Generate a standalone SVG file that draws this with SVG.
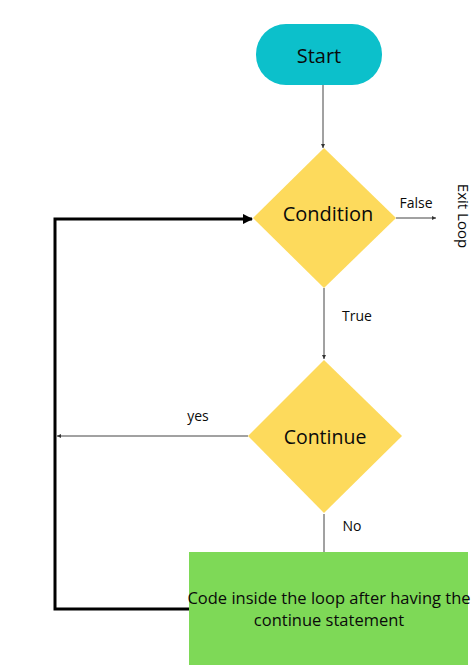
<svg xmlns="http://www.w3.org/2000/svg" width="474" height="670" viewBox="0 0 474 670">
<style>
text{font-family:"Open Sans","Noto Sans",sans-serif;fill:#0a0a0a}
.thin{stroke:#444;stroke-width:1;fill:none}
.thick{stroke:#000;stroke-width:3;fill:none}
.lbl{font-size:14px}
</style>
<defs>
<marker id="ah" viewBox="0 0 10 10" refX="10" refY="5" markerWidth="4" markerHeight="4" orient="auto"><path d="M0,0 L10,5 L0,10 z" fill="#333"/></marker>
<marker id="ahb" viewBox="0 0 10 10" refX="9" refY="5" markerWidth="3.5" markerHeight="3.5" orient="auto"><path d="M0,0 L10,5 L0,10 z" fill="#000"/></marker>
</defs>
<g id="connectors">
<line class="thin" x1="323" y1="85" x2="323" y2="148" marker-end="url(#ah)"/>
<line class="thin" x1="396" y1="218" x2="436" y2="218" marker-end="url(#ah)"/>
<line class="thin" x1="324" y1="288" x2="324" y2="359" marker-end="url(#ah)"/>
<line class="thin" x1="248" y1="436" x2="57" y2="436" marker-end="url(#ah)"/>
<line class="thin" x1="324" y1="514" x2="324" y2="552"/>
<path class="thick" d="M189,609 H55 V219 H252" marker-end="url(#ahb)"/>
<text class="lbl" x="416" y="208" text-anchor="middle">False</text>
<text class="lbl" x="357" y="321" text-anchor="middle">True</text>
<text class="lbl" x="198" y="421" text-anchor="middle">yes</text>
<text class="lbl" x="352" y="531" text-anchor="middle">No</text>
</g>
<g id="start">
<rect x="256" y="24" width="126" height="61" rx="30" fill="#0CC0CB"/>
<text x="319" y="63" font-size="20" text-anchor="middle">Start</text>
</g>
<g id="condition">
<polygon points="324,148 396,218 324,288 253,218" fill="#FDDA5C"/>
<text x="328" y="221" font-size="20" text-anchor="middle">Condition</text>
</g>
<g id="exit">
<text x="0" y="0" font-size="15" text-anchor="middle" transform="translate(458,216) rotate(90)">Exit Loop</text>
</g>
<g id="continue">
<polygon points="324,360 402,436 324,513 248,436" fill="#FDDA5C"/>
<text x="325" y="444" font-size="19.5" text-anchor="middle">Continue</text>
</g>
<g id="code">
<rect x="189" y="552" width="279" height="113" fill="#7ED957"/>
<text x="329" y="604" font-size="16.5" text-anchor="middle">Code inside the loop after having the</text>
<text x="329" y="626" font-size="16.5" text-anchor="middle">continue statement</text>
</g>
</svg>
